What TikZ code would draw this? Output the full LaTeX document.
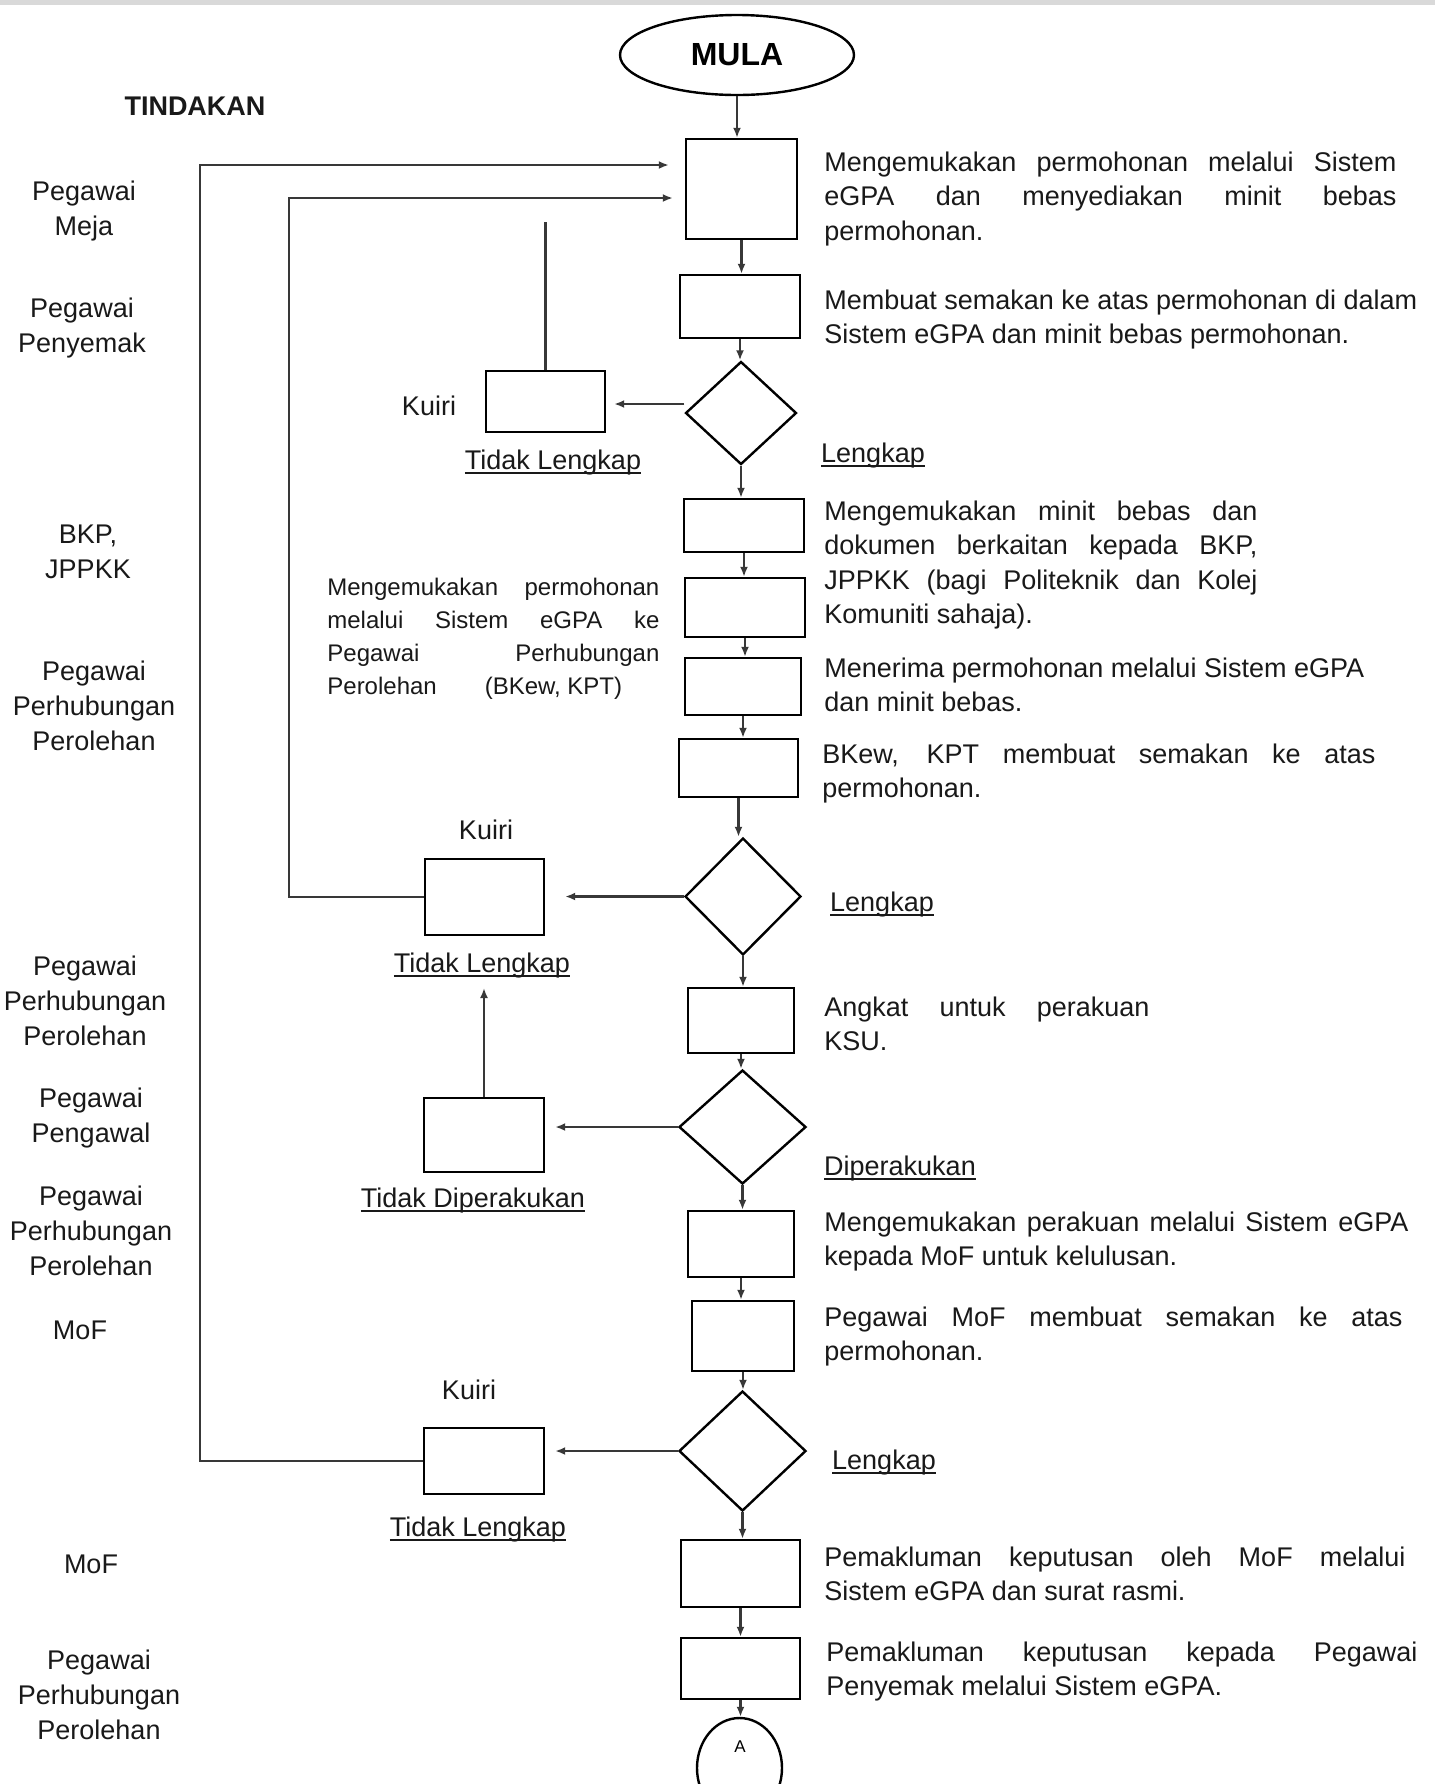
\documentclass[tikz,border=0pt]{standalone}
\usepackage{fontspec}
\setmainfont{Liberation Sans}
\usetikzlibrary{shapes.geometric,arrows.meta,calc}
\newcommand\ulabel[1]{\leavevmode\setbox0\hbox{#1}\rlap{\rule[-2.4pt]{\wd0}{0.7pt}}\box0}
\newcommand\fl[2]{\makebox[#1][s]{#2}}
\tikzset{
  box/.style={draw=black, line width=1.2pt, inner sep=0pt, fill=white},
  sz/.style 2 args={minimum width=#1*0.5pt, minimum height=#2*0.5pt},
  dia/.style={diamond, draw=black, line width=1.2pt, inner sep=0pt, fill=white},
  conn/.style={line width=1.3pt, draw=black!78},
  arr/.style={conn, -{Latex[length=5pt,width=4pt]}},
  lab/.style={inner sep=0pt, anchor=base, font=\fontsize{13.5pt}{17.5pt}\selectfont, text=black!90},
  rtxt/.style={inner sep=0pt, anchor=base west, font=\fontsize{13.5pt}{17.3pt}\selectfont, text=black!90},
  mtxt/.style={inner sep=0pt, anchor=base west, font=\fontsize{12pt}{16.6pt}\selectfont, text=black!90}
}
\begin{document}
\begin{tikzpicture}[x=0.5pt,y=-0.5pt]
\useasboundingbox (0,0) rectangle (1435,1784);
\clip (0,0) rectangle (1435,1784);
\fill[white] (0,0) rectangle (1435,1784);
\fill[black!15] (0,0) rectangle (1435,5);

% ---------- main column ----------
\node[ellipse, draw=black, line width=1.2pt, sz={234}{80}, inner sep=0pt, fill=white,
      font=\fontsize{16pt}{18pt}\selectfont\bfseries] (mula) at (737,55) {MULA};
\node[box, sz={111}{100}] (b1) at (741.5,189) {};
\node[box, sz={120}{63}]  (b2) at (740,306.5) {};
\node[dia, sz={111}{103}] (d1) at (741,413) {};
\node[box, sz={119}{61}]  (k1) at (545.5,401.5) {};
\node[box, sz={120}{53}]  (b3) at (744,525.5) {};
\node[box, sz={120}{59}]  (b4) at (745,607.5) {};
\node[box, sz={116}{57}]  (b5) at (743,686.5) {};
\node[box, sz={119}{58}]  (b6) at (738.5,768) {};
\node[dia, sz={116}{117}] (d2) at (743,896.5) {};
\node[box, sz={119}{76}]  (k2) at (484.5,897) {};
\node[box, sz={106}{65}]  (b7) at (741,1020.5) {};
\node[dia, sz={127}{114}] (d3) at (742.5,1127) {};
\node[box, sz={120}{74}]  (k3) at (484,1135) {};
\node[box, sz={106}{66}]  (b8) at (741,1244) {};
\node[box, sz={102}{70}]  (b9) at (743,1336) {};
\node[dia, sz={127}{120}] (d4) at (742.5,1451) {};
\node[box, sz={120}{66}]  (k4) at (484,1461) {};
\node[box, sz={119}{67}]  (b10) at (740.5,1573.5) {};
\node[box, sz={119}{61}]  (b11) at (740.5,1668.5) {};
\node[ellipse, draw=black, line width=1.2pt, sz={85}{100}, inner sep=0pt] (ca) at (739.5,1768) {};
\node[inner sep=0pt, font=\fontsize{8.5pt}{10pt}\selectfont] (catxt) at (740,1747) {A};

% vertical flow arrows
\draw[arr] (mula.south) -- (mula.south |- b1.north);
\draw[arr] (b1.south) -- (b1.south |- b2.north);
\draw[arr] (b2.south) -- (b2.south |- d1.north);
\draw[arr] (d1.south) -- (d1.south |- b3.north);
\draw[arr] (b3.south) -- (b3.south |- b4.north);
\draw[arr] (b4.south) -- (b4.south |- b5.north);
\draw[arr] (b5.south) -- (b5.south |- b6.north);
\draw[arr] (b6.south) -- (b6.south |- d2.north);
\draw[arr] (d2.south) -- (d2.south |- b7.north);
\draw[arr] (b7.south) -- (b7.south |- d3.north);
\draw[arr] (d3.south) -- (d3.south |- b8.north);
\draw[arr] (b8.south) -- (b8.south |- b9.north);
\draw[arr] (b9.south) -- (b9.south |- d4.north);
\draw[arr] (d4.south) -- (d4.south |- b10.north);
\draw[arr] (b10.south) -- (b10.south |- b11.north);
\draw[arr] (b11.south) -- (b11.south |- ca.north);

% side branches
\draw[arr, shorten >=4pt] ([yshift=4.5pt]d1.west) -- ([yshift=4.5pt]d1.west -| k1.east);
\coordinate (f1) at (545.5,222);
\draw[conn] (k1.north) -- (f1);
\draw[arr, shorten >=10pt] (d2.west) -- (d2.west -| k2.east);
\draw[arr, shorten >=5pt] (d3.west) -- (d3.west -| k3.east);
\draw[arr, shorten >=5pt] (d4.west) -- (d4.west -| k4.east);

% loop backs
\coordinate (i1) at (289,198);
\draw[arr, shorten >=6pt] (k2.west) -| (i1) -- (i1 -| b1.west);
\coordinate (o1) at (200,165);
\draw[arr, shorten >=8pt] (k4.west) -| (o1) -- (o1 -| b1.west);

% ---------- labels near diagram ----------
\node[lab] (kq1) at (429,415) {Kuiri};
\node[lab] (tl1) at (553,469) {\ulabel{Tidak Lengkap}};
\node[lab] (lk1) at (873,462) {\ulabel{Lengkap}};
\node[lab] (kq2) at (486,839) {Kuiri};
\node[lab] (tl2) at (482,972) {\ulabel{Tidak Lengkap}};
\node[lab] (lk2) at (882,911) {\ulabel{Lengkap}};
\node[lab] (td)  at (473,1207) {\ulabel{Tidak Diperakukan}};
\node[lab] (dp)  at (900,1175) {\ulabel{Diperakukan}};
\node[lab] (kq4) at (469,1399) {Kuiri};
\node[lab] (tl4) at (478,1536) {\ulabel{Tidak Lengkap}};
\node[lab] (lk4) at (884,1469) {\ulabel{Lengkap}};
\draw[arr, shorten >=5pt] (k3.north) -- (k3.north |- tl2.south);

% ---------- left column (TINDAKAN) ----------
\node[lab, font=\fontsize{13.5pt}{17pt}\selectfont\bfseries] (tind) at (195,115) {TINDAKAN};
\node[lab] (a1) at (84,200)  {\parbox[t]{140pt}{\centering Pegawai\\Meja}};
\node[lab] (a2) at (82,317)  {\parbox[t]{140pt}{\centering Pegawai\\Penyemak}};
\node[lab] (a3) at (88,543)  {\parbox[t]{140pt}{\centering BKP,\\JPPKK}};
\node[lab] (a4) at (94,680)  {\parbox[t]{140pt}{\centering Pegawai\\Perhubungan\\Perolehan}};
\node[lab] (a5) at (85,975)  {\parbox[t]{140pt}{\centering Pegawai\\Perhubungan\\Perolehan}};
\node[lab] (a6) at (91,1107) {\parbox[t]{140pt}{\centering Pegawai\\Pengawal}};
\node[lab] (a7) at (91,1205) {\parbox[t]{140pt}{\centering Pegawai\\Perhubungan\\Perolehan}};
\node[lab] (a8) at (80,1339) {MoF};
\node[lab] (a9) at (91,1573) {MoF};
\node[lab] (a10) at (99,1669) {\parbox[t]{140pt}{\centering Pegawai\\Perhubungan\\Perolehan}};

% ---------- middle text ----------
\node[mtxt] (tm) at (327,595) {\parbox[t]{166pt}{\fl{166pt}{Mengemukakan permohonan}\\\fl{166pt}{melalui Sistem eGPA ke}\\\fl{166pt}{Pegawai Perhubungan}\\Perolehan\hspace*{24pt}(BKew, KPT)}};

% ---------- right descriptions ----------
\node[rtxt] (t1) at (824,171) {\parbox[t]{286pt}{\fl{286pt}{Mengemukakan permohonan melalui Sistem}\\\fl{286pt}{eGPA dan menyediakan minit bebas}\\permohonan.}};
\node[rtxt] (t2) at (824,309) {\parbox[t]{300pt}{Membuat semakan ke atas permohonan di dalam\\Sistem eGPA dan minit bebas permohonan.}};
\node[rtxt] (t3) at (824,520) {\parbox[t]{216.5pt}{\fl{216.5pt}{Mengemukakan minit bebas dan}\\\fl{216.5pt}{dokumen berkaitan kepada BKP,}\\\fl{216.5pt}{JPPKK (bagi Politeknik dan Kolej}\\Komuniti sahaja).}};
\node[rtxt] (t4) at (824,677) {\parbox[t]{280pt}{Menerima permohonan melalui Sistem eGPA\\dan minit bebas.}};
\node[rtxt] (t5) at (822,763) {\parbox[t]{276.5pt}{\fl{276.5pt}{BKew, KPT membuat semakan ke atas}\\permohonan.}};
\node[rtxt] (t6) at (824,1016) {\parbox[t]{162.5pt}{\fl{162.5pt}{Angkat untuk perakuan}\\KSU.}};
\node[rtxt] (t7) at (824,1231) {\parbox[t]{292pt}{\fl{292pt}{Mengemukakan perakuan melalui Sistem eGPA}\\kepada MoF untuk kelulusan.}};
\node[rtxt] (t8) at (824,1326) {\parbox[t]{289pt}{\fl{289pt}{Pegawai MoF membuat semakan ke atas}\\permohonan.}};
\node[rtxt] (t9) at (824,1566) {\parbox[t]{290.5pt}{\fl{290.5pt}{Pemakluman keputusan oleh MoF melalui}\\Sistem eGPA dan surat rasmi.}};
\node[rtxt] (t10) at (826,1661) {\parbox[t]{295.5pt}{\fl{295.5pt}{Pemakluman keputusan kepada Pegawai}\\Penyemak melalui Sistem eGPA.}};
\end{tikzpicture}
\end{document}
